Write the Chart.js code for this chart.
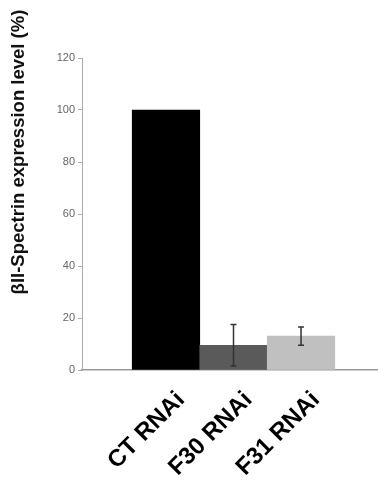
<!DOCTYPE html>
<html>
<head>
<meta charset="utf-8">
<script src="https://cdn.jsdelivr.net/npm/chart.js@4.4.1/dist/chart.umd.min.js"></script>
<style>
  html, body { margin: 0; padding: 0; background: #fff; }
  #wrap { width: 378px; height: 480px; position: relative; }
</style>
</head>
<body>
<div id="wrap"><canvas id="chart"></canvas></div>
<script>
// data
const categories = ["CT RNAi", "F30 RNAi", "F31 RNAi"];
const expression = [100, 9.5, 13];
const errors = [0, 8, 3.5];
const barColors = ["#000000", "#5a5a5a", "#c0c0c0"];
const yTicks = [0, 20, 40, 60, 80, 100, 120];
const yTitle = "\u03b2II-Spectrin expression level (%)";

const points = categories.map((c, i) => ({ x: i + 1, y: expression[i] }));

// error bars drawn from the data through the scales
const errorBars = {
  id: "errorBars",
  afterDatasetsDraw(chart) {
    const { ctx, scales: { x, y } } = chart;
    ctx.save();
    ctx.strokeStyle = "#333";
    ctx.lineWidth = 1.5;
    points.forEach((p, i) => {
      if (!errors[i]) return;
      const px = x.getPixelForValue(p.x);
      const top = y.getPixelForValue(p.y + errors[i]);
      const bot = y.getPixelForValue(p.y - errors[i]);
      ctx.beginPath();
      ctx.moveTo(px, top);
      ctx.lineTo(px, bot);
      ctx.moveTo(px - 3, top);
      ctx.lineTo(px + 3, top);
      ctx.moveTo(px - 3, bot);
      ctx.lineTo(px + 3, bot);
      ctx.stroke();
    });
    ctx.restore();
  }
};

// y title sits higher than the axis centre in the original
const sideTitle = {
  id: "sideTitle",
  afterDraw(chart) {
    const { ctx } = chart;
    ctx.save();
    ctx.translate(24, 152);
    ctx.rotate(-Math.PI / 2);
    ctx.font = "bold 18.5px 'Liberation Sans', Arial, sans-serif";
    ctx.fillStyle = "#111";
    ctx.textAlign = "center";
    ctx.textBaseline = "alphabetic";
    ctx.fillText(yTitle, 0, 0);
    ctx.restore();
  }
};

new Chart(document.getElementById("chart"), {
  type: "bar",
  data: {
    datasets: [{
      data: points,
      backgroundColor: barColors,
      borderWidth: 0,
      categoryPercentage: 1,
      barPercentage: 1
    }]
  },
  options: {
    responsive: true,
    maintainAspectRatio: false,
    animation: false,
    layout: { padding: { top: 58, right: 0, left: 0, bottom: 0 } },
    plugins: { legend: { display: false }, tooltip: { enabled: false } },
    scales: {
      x: {
        type: "linear",
        offset: false,
        min: -0.244,
        max: 4.14,
        afterBuildTicks: (scale) => {
          scale.ticks = categories.map((c, i) => ({ value: i + 1 }));
        },
        afterFit: (scale) => { scale.height = 110; },
        grid: { display: false },
        border: { display: true, color: "#999", width: 1.5 },
        ticks: {
          autoSkip: false,
          minRotation: 45,
          maxRotation: 45,
          padding: 8,
          labelOffset: 15,
          color: "#000",
          font: { family: "'Liberation Sans', Arial, sans-serif", size: 24, weight: "bold" },
          callback: (v) => categories[v - 1] ?? ""
        }
      },
      y: {
        min: 0,
        max: 120,
        afterBuildTicks: (scale) => {
          scale.ticks = yTicks.map((v) => ({ value: v }));
        },
        afterFit: (scale) => { scale.width = 82; },
        grid: { display: true, drawOnChartArea: false, drawTicks: true, tickLength: 4, color: "#aaa" },
        border: { display: true, color: "#aaa", width: 1 },
        ticks: {
          padding: 3,
          color: "#666",
          font: { family: "'Liberation Sans Narrow', 'Liberation Sans', Arial, sans-serif", size: 11 }
        }
      }
    }
  },
  plugins: [errorBars, sideTitle]
});
</script>
</body>
</html>
